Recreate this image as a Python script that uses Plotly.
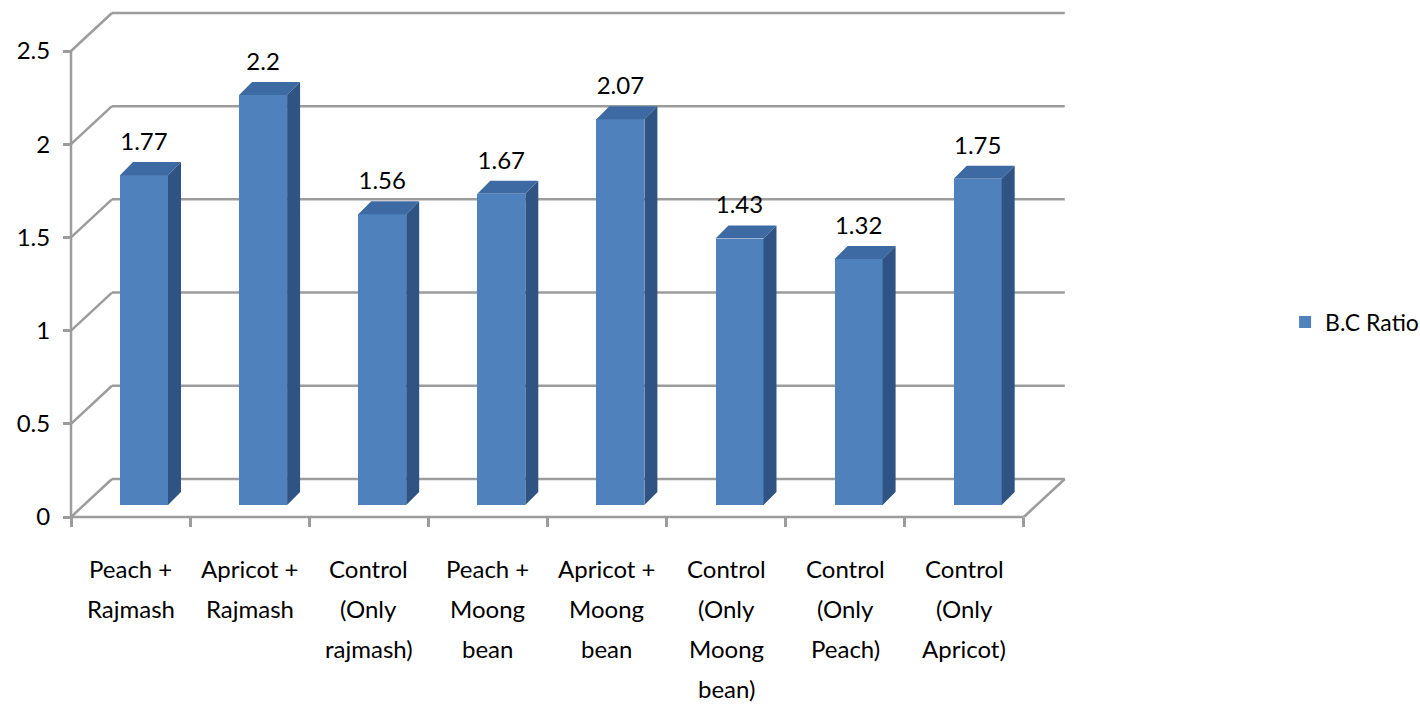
import plotly.graph_objects as go

# Benefit-cost ratio per cropping system
categories = [
    ["Peach +", "Rajmash"],
    ["Apricot +", "Rajmash"],
    ["Control", "(Only", "rajmash)"],
    ["Peach +", "Moong", "bean"],
    ["Apricot +", "Moong", "bean"],
    ["Control", "(Only", "Moong", "bean)"],
    ["Control", "(Only", "Peach)"],
    ["Control", "(Only", "Apricot)"],
]
bc_ratio = [1.77, 2.2, 1.56, 1.67, 2.07, 1.43, 1.32, 1.75]
y_ticks = [0, 0.5, 1, 1.5, 2, 2.5]

FONT = "Lato, Liberation Sans, sans-serif"
FS = 24
GRID = "#9c9c9c"
FRONT = "#4f81bd"
TOP = "#3d6aa3"
SIDE = "#2f5484"

# pseudo-3D geometry, in axis units
WALL_DX, WALL_DY = 0.344, 0.204   # depth of the floor / back wall
BAR_SHIFT, BAR_W = 0.113, 0.403   # bar front face offset and width
BAR_BASE = 0.064                  # bar base sits inside the floor
BAR_DX, BAR_DY = 0.109, 0.070     # bar depth

n = len(bc_ratio)
centers = [i + 0.5 + BAR_SHIFT for i in range(n)]

fig = go.Figure()

# front faces
fig.add_trace(go.Bar(
    x=centers, y=bc_ratio, base=BAR_BASE, width=BAR_W,
    marker=dict(color=FRONT, line=dict(width=0)),
    name="B.C Ratio", showlegend=True,
))

# top and side faces
top_x, top_y, side_x, side_y = [], [], [], []
for c, v in zip(centers, bc_ratio):
    xl, xr = c - BAR_W / 2, c + BAR_W / 2
    t = BAR_BASE + v
    top_x += [xl, xr, xr + BAR_DX, xl + BAR_DX, xl, None]
    top_y += [t, t, t + BAR_DY, t + BAR_DY, t, None]
    side_x += [xr, xr, xr + BAR_DX, xr + BAR_DX, xr, None]
    side_y += [BAR_BASE, t, t + BAR_DY, BAR_BASE + BAR_DY, BAR_BASE, None]

for xs, ys, col in [(top_x, top_y, TOP), (side_x, side_y, SIDE)]:
    fig.add_trace(go.Scatter(
        x=xs, y=ys, mode="lines", fill="toself", fillcolor=col,
        line=dict(width=0, color=col), hoverinfo="skip", showlegend=False,
    ))

# value labels
fig.add_trace(go.Scatter(
    x=centers, y=[v + BAR_BASE + BAR_DY + 0.097 for v in bc_ratio],
    mode="text", text=[f"{v:g}" for v in bc_ratio],
    textposition="middle center",
    textfont=dict(family=FONT, size=FS, color="black"),
    hoverinfo="skip", showlegend=False, cliponaxis=False,
))

# back wall gridlines, side-wall diagonals, floor and front axis lines
shapes = []
line = dict(color=GRID, width=2.5)
for t in y_ticks:
    shapes.append(dict(type="line", xref="x", yref="y", x0=WALL_DX, x1=n + WALL_DX,
                       y0=t + WALL_DY, y1=t + WALL_DY, line=line, layer="below"))
    shapes.append(dict(type="line", xref="x", yref="y", x0=0, x1=WALL_DX,
                       y0=t, y1=t + WALL_DY, line=line, layer="below"))
shapes.append(dict(type="line", xref="x", yref="y", x0=n, x1=n + WALL_DX,
                   y0=0, y1=WALL_DY, line=line, layer="below"))
shapes.append(dict(type="line", xref="x", yref="y", x0=0, x1=n, y0=0, y1=0,
                   line=line, layer="below"))
shapes.append(dict(type="line", xref="x", yref="y", x0=0, x1=0, y0=0, y1=max(y_ticks),
                   line=line, layer="below"))

KX, KY = 119.1, 186.4          # px per axis unit
L, T, B = 64, 4, 182
W, H = 1420, 704
x0 = -(71 - L) / KX
x1 = x0 + 1010 / KX
y1 = (517 - T) / KY
y0 = -(H - B - 517) / KY
zero_frac = (0 - y0) / (y1 - y0)

# category labels, one line at a time
annotations = []
for i, lines in enumerate(categories):
    for k, txt in enumerate(lines):
        annotations.append(dict(
            x=i + 0.5, xref="x", y=zero_frac, yref="paper",
            text=txt, showarrow=False, xanchor="center", yanchor="middle",
            yshift=-(51 + 40 * k),
            font=dict(family=FONT, size=FS, color="black"),
        ))

fig.update_layout(
    width=W, height=H,
    margin=dict(l=L, r=W - L - 1010, t=T, b=B, pad=0),
    paper_bgcolor="white", plot_bgcolor="white",
    shapes=shapes, annotations=annotations,
    font=dict(family=FONT, size=FS, color="black"),
    bargap=0,
    xaxis=dict(
        range=[x0, x1], showgrid=False, zeroline=False, showline=False,
        anchor="free", position=zero_frac,
        tickvals=list(range(n + 1)), showticklabels=False,
        ticks="outside", ticklen=9, tickwidth=2.5, tickcolor=GRID,
    ),
    yaxis=dict(
        range=[y0, y1], showgrid=False, zeroline=False, showline=False,
        anchor="free", position=(0 - x0) / (x1 - x0),
        tickvals=y_ticks, ticktext=[f"{t:g}" for t in y_ticks],
        ticks="outside", ticklen=8, tickwidth=2.5, tickcolor=GRID,
        tickfont=dict(family=FONT, size=FS, color="black"),
        ticklabelstandoff=8,
    ),
    legend=dict(
        xref="container", yref="container", x=0.905, y=1 - 322 / 704,
        xanchor="left", yanchor="middle",
        font=dict(family=FONT, size=23, color="black"),
        bgcolor="rgba(0,0,0,0)",
    ),
)

fig.write_html("out.html")
